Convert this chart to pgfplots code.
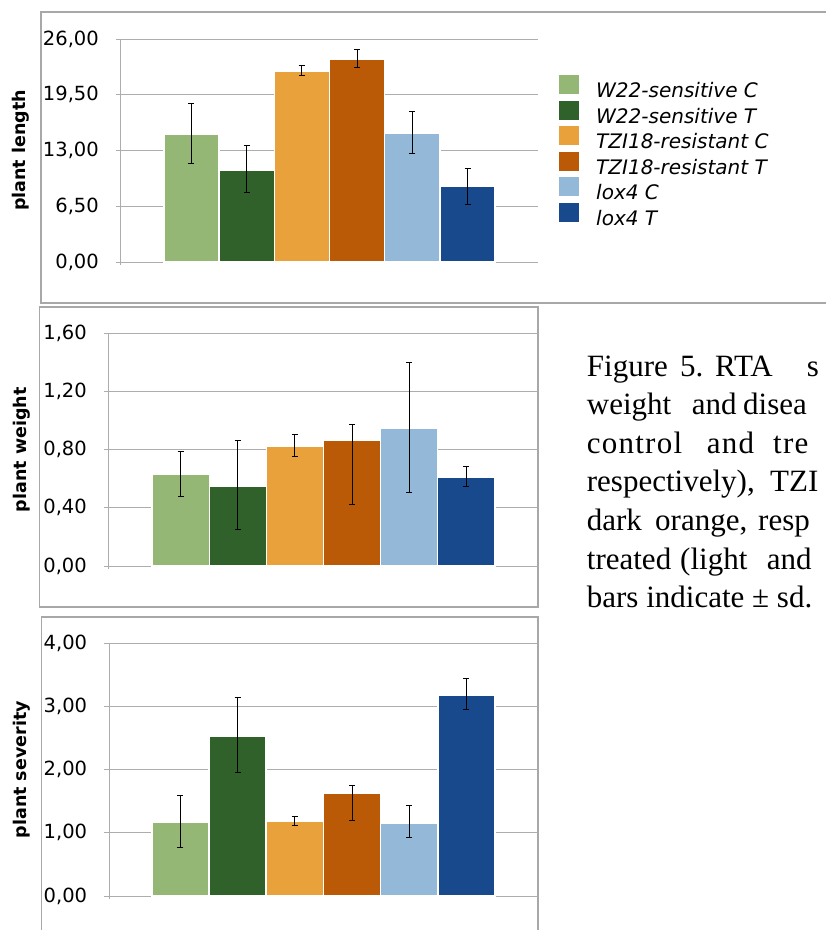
\documentclass[border=0pt]{standalone}
\usepackage{fontspec}
\setmainfont{Liberation Serif}
\newfontfamily\djv{DejaVu Sans}
\usepackage{pgfplots}
\pgfplotsset{compat=1.18}
\definecolor{cA}{HTML}{94B776}
\definecolor{cB}{HTML}{31612B}
\definecolor{cC}{HTML}{E9A23B}
\definecolor{cD}{HTML}{BA5A07}
\definecolor{cE}{HTML}{93B8D8}
\definecolor{cF}{HTML}{17498C}
\definecolor{gridc}{HTML}{ADADAD}
\definecolor{framec}{HTML}{A8A8A8}
\pgfplotsset{
  panel/.style={
    scale only axis, anchor=south west,
    ybar=0pt,
    xmin=-1, xmax=1, xtick=\empty,
    ymin=0,
    axis x line=none, axis y line*=left,
    y axis line style={draw=gridc, line width=1pt, shorten <=-3pt},
    ymajorgrids, grid style={draw=gridc, line width=1pt},
    tick align=outside, major tick length=5pt,
    ytick style={draw=gridc, line width=1pt},
    yticklabel style={font=\djv\fontsize{19.5}{20}\selectfont, anchor=east, inner sep=0pt, xshift=-17pt},
    error bars/y dir=both, error bars/y explicit,
    error bars/error bar style={black, line width=1pt},
    error bars/error mark options={rotate=90, black, line width=1pt, mark size=3pt},
    every axis plot/.append style={draw=white, line width=1.5pt},
    legend image code/.code={\fill[##1, draw=none] (0pt,-2pt) rectangle (20pt,17pt);},
  }
}
\begin{document}
\begin{tikzpicture}
\useasboundingbox (0,0) rectangle (826pt,-930pt);
% frames
\draw[framec, line width=1.2pt] (826pt,-12pt) -- (41pt,-12pt) -- (41pt,-303pt) -- (826pt,-303pt);
\draw[framec, line width=1.2pt] (39.5pt,-307pt) rectangle (538pt,-607pt);
\draw[framec, line width=1.2pt] (41.5pt,-932pt) -- (41.5pt,-617pt) -- (538pt,-617pt) -- (538pt,-932pt);

% top: plant length
\begin{axis}[panel, at={(121pt,-262pt)}, width=417pt, height=223pt,
  bar width=55.2pt, ymax=26,
  ytick={0,6.5,13,19.5,26}, yticklabels={{0,00},{6,50},{13,00},{19,50},{26,00}},
  ylabel={plant length},
  every axis y label/.append style={at={(axis description cs:-0.24,0.5)}, anchor=center,
    font=\djv\bfseries\fontsize{17.5}{18}\selectfont},
  legend cell align=left,
  legend style={draw=none, fill=none, at={(axis description cs:1.0504,0.838)}, anchor=north west,
    font=\djv\itshape\fontsize{20}{20}\selectfont, inner sep=0pt, row sep=-1pt,
    nodes={inner sep=0pt, text height=15pt, text depth=4pt},
    /tikz/every odd column/.append style={column sep=17pt}},
]
\addplot[fill=cA] coordinates {(0,14.90) += (0,3.56) -= (0,3.47)};
\addlegendentry{W22-sensitive C}
\addplot[fill=cB] coordinates {(0,10.65) += (0,2.91) -= (0,2.53)};
\addlegendentry{W22-sensitive T}
\addplot[fill=cC] coordinates {(0,22.27) += (0,0.63) -= (0,0.57)};
\addlegendentry{TZI18-resistant C}
\addplot[fill=cD] coordinates {(0,23.59) += (0,1.24) -= (0,0.89)};
\addlegendentry{TZI18-resistant T}
\addplot[fill=cE] coordinates {(0,14.96) += (0,2.64) -= (0,2.26)};
\addlegendentry{lox4 C}
\addplot[fill=cF] coordinates {(0,8.86) += (0,2.10) -= (0,2.10)};
\addlegendentry{lox4 T}
\end{axis}

% middle: plant weight
\begin{axis}[panel, at={(109pt,-566pt)}, width=429pt, height=232.5pt,
  bar width=57.1pt, ymax=1.6,
  ytick={0,0.4,0.8,1.2,1.6}, yticklabels={{0,00},{0,40},{0,80},{1,20},{1,60}},
  ylabel={plant weight},
  every axis y label/.append style={at={(axis description cs:-0.203,0.5)}, anchor=center,
    font=\djv\bfseries\fontsize{17.5}{18}\selectfont},
]
\addplot[fill=cA] coordinates {(0,0.633) += (0,0.157) -= (0,0.153)};
\addplot[fill=cB] coordinates {(0,0.550) += (0,0.317) -= (0,0.302)};
\addplot[fill=cC] coordinates {(0,0.826) += (0,0.082) -= (0,0.074)};
\addplot[fill=cD] coordinates {(0,0.865) += (0,0.112) -= (0,0.441)};
\addplot[fill=cE] coordinates {(0,0.945) += (0,0.455) -= (0,0.440)};
\addplot[fill=cF] coordinates {(0,0.608) += (0,0.075) -= (0,0.058)};
\end{axis}

% bottom: plant severity
\begin{axis}[panel, at={(109.3pt,-896pt)}, width=428.2pt, height=252.7pt,
  bar width=57.2pt, ymax=4,
  ytick={0,1,2,3,4}, yticklabels={{0,00},{1,00},{2,00},{3,00},{4,00}},
  ylabel={plant severity},
  every axis y label/.append style={at={(axis description cs:-0.204,0.5)}, anchor=center,
    font=\djv\bfseries\fontsize{17.5}{18}\selectfont},
]
\addplot[fill=cA] coordinates {(0,1.166) += (0,0.424) -= (0,0.391)};
\addplot[fill=cB] coordinates {(0,2.530) += (0,0.620) -= (0,0.570)};
\addplot[fill=cC] coordinates {(0,1.176) += (0,0.090) -= (0,0.056)};
\addplot[fill=cD] coordinates {(0,1.630) += (0,0.115) -= (0,0.430)};
\addplot[fill=cE] coordinates {(0,1.155) += (0,0.275) -= (0,0.235)};
\addplot[fill=cF] coordinates {(0,3.185) += (0,0.255) -= (0,0.225)};
\end{axis}

% caption text (visible part)
\begin{scope}[every node/.style={anchor=base west, inner sep=0pt, font=\fontsize{31}{31}\selectfont}]
\node at (586.7pt,-376pt) {Figure};
\node at (680pt,-376pt) {5.};
\node at (715pt,-376pt) {RTA};
\node at (806.7pt,-376pt) {s};
\node at (586.7pt,-414.6pt) {weight};
\node at (691.7pt,-414.6pt) {and};
\node at (743pt,-414.6pt) {disea};
\node at (586.7pt,-453.2pt) {\addfontfeature{LetterSpace=4}control};
\node at (706.7pt,-453.2pt) {\addfontfeature{LetterSpace=4}and};
\node at (773pt,-453.2pt) {\addfontfeature{LetterSpace=4}tre};
\node at (586.7pt,-491.8pt) {respectively),};
\node at (770pt,-491.8pt) {TZI};
\node at (586.7pt,-530.4pt) {dark};
\node at (655pt,-530.4pt) {orange,};
\node at (758pt,-530.4pt) {resp};
\node at (586.7pt,-569pt) {treated};
\node at (680pt,-569pt) {(light};
\node at (766.7pt,-569pt) {and};
\node at (586.7pt,-607.6pt) {bars indicate \textpm{} sd.};
\end{scope}
\end{tikzpicture}
\end{document}
